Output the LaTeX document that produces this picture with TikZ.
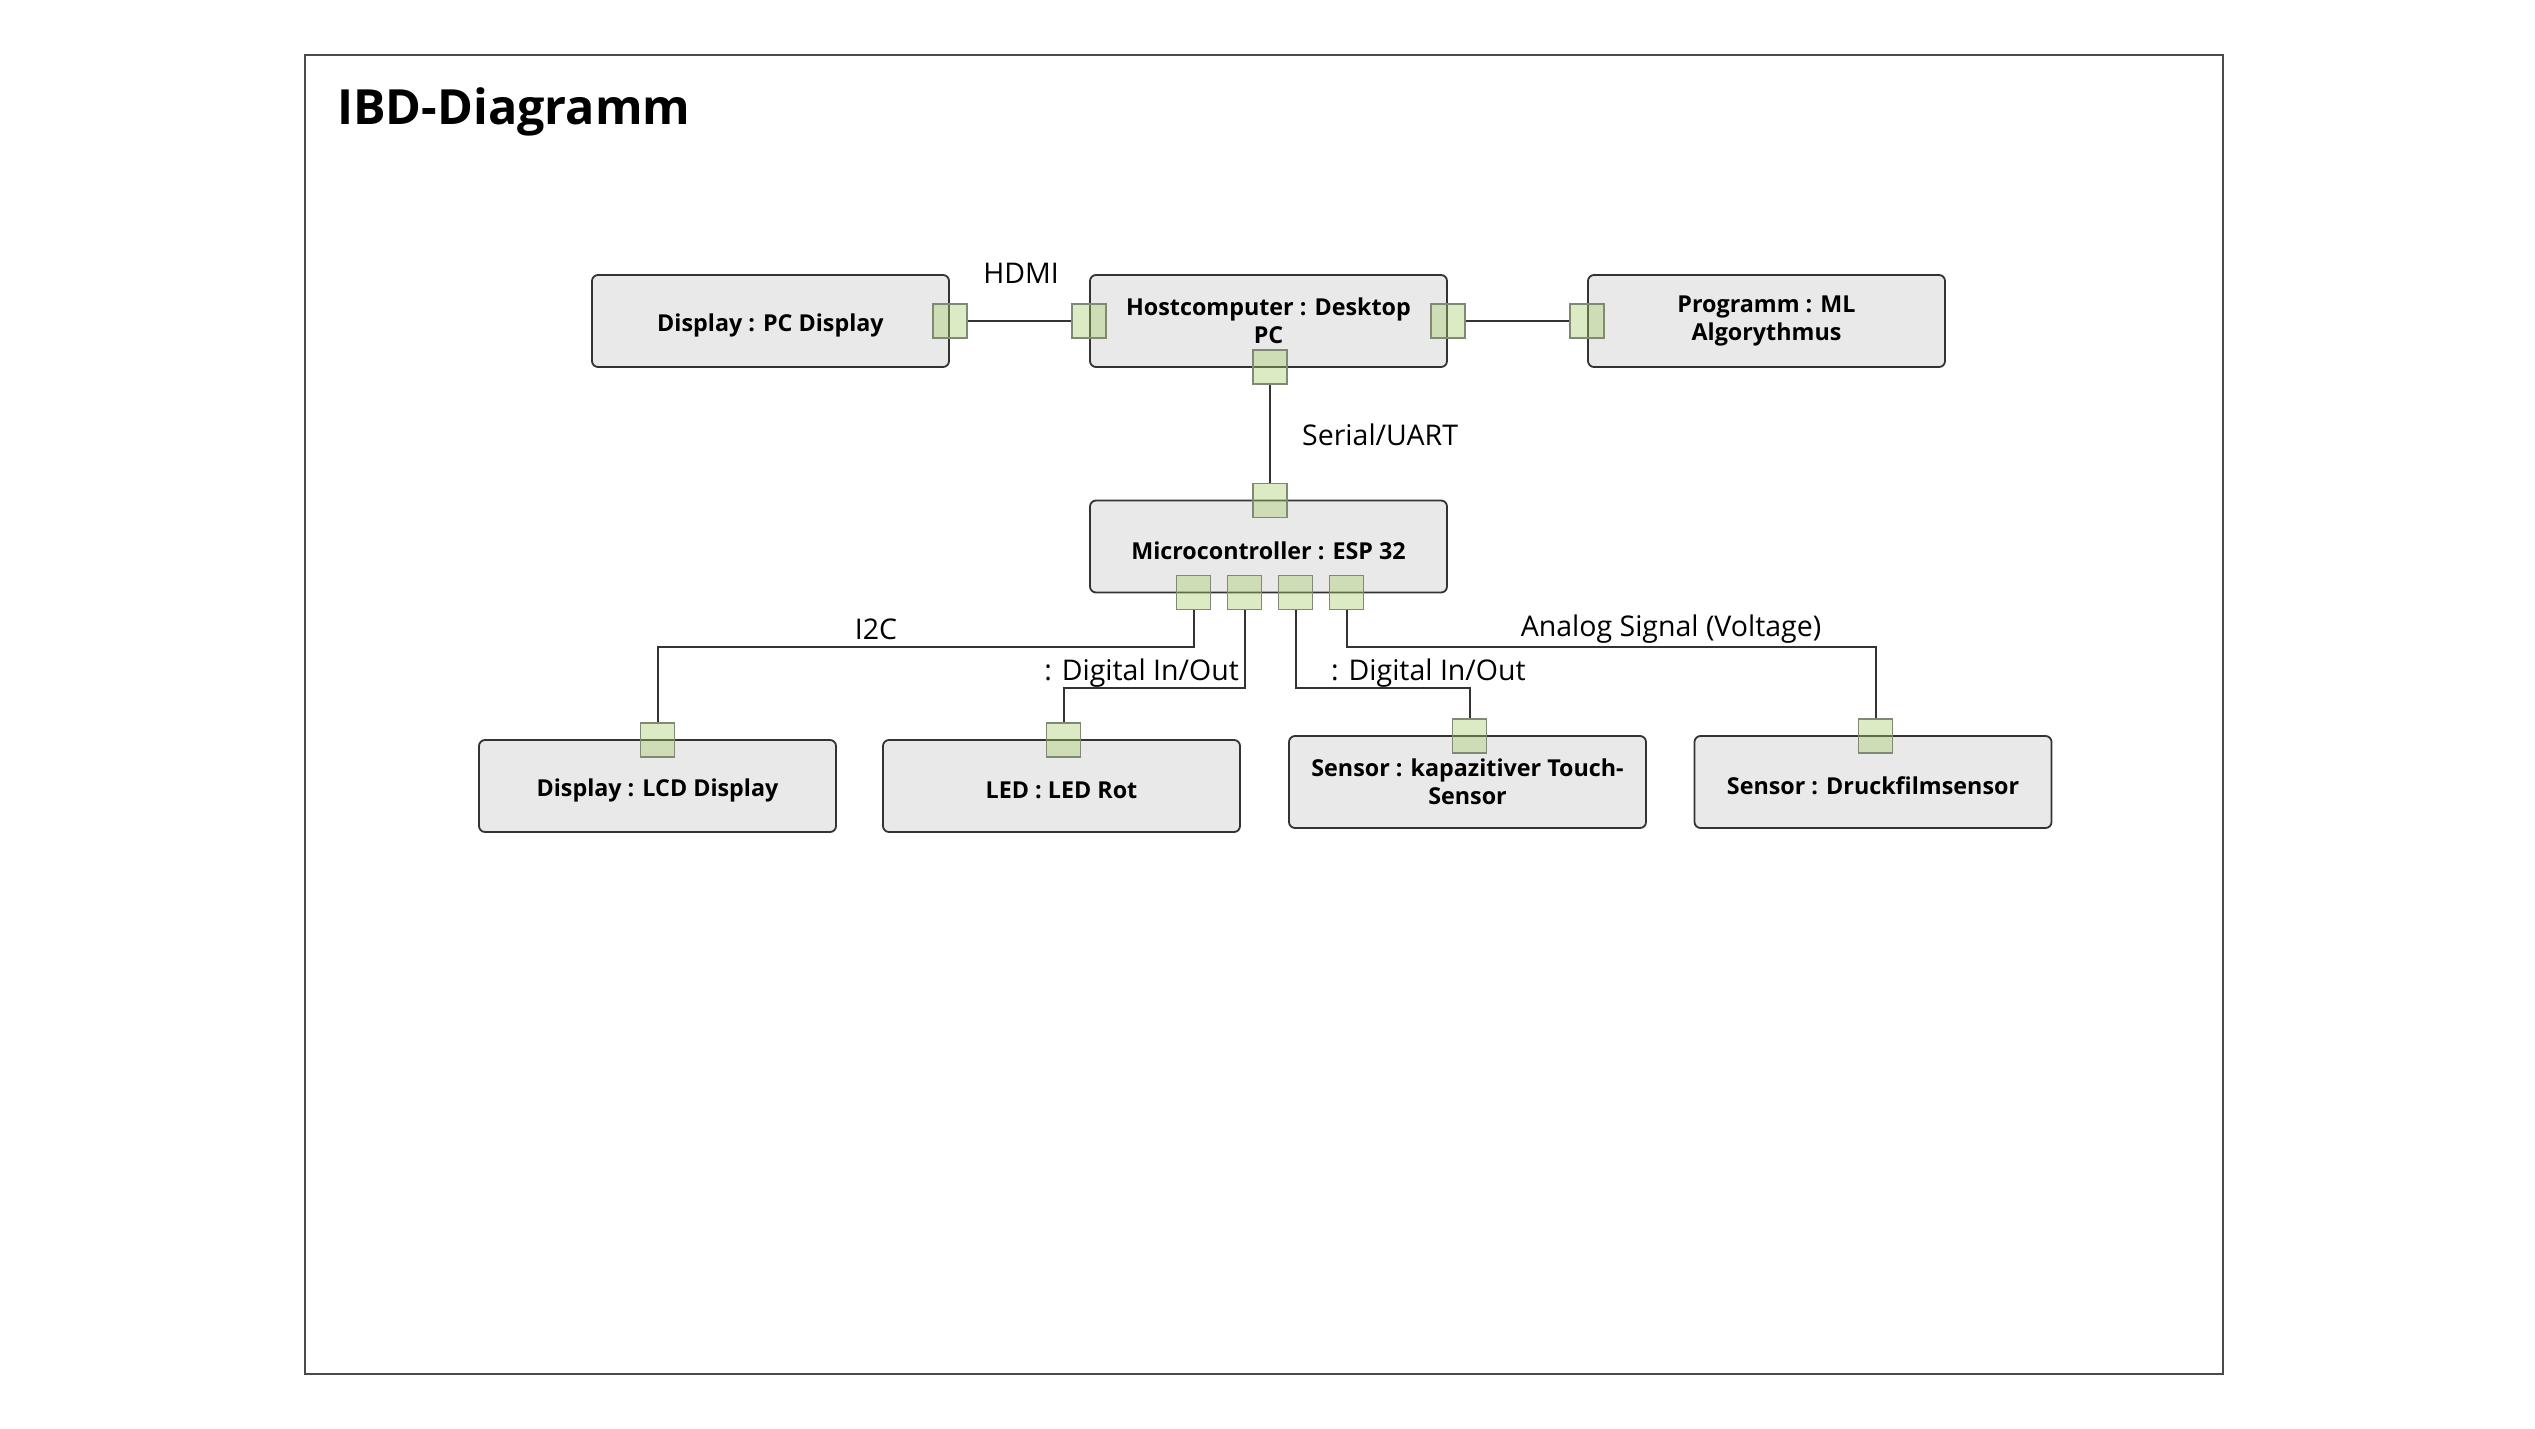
\documentclass[tikz,border=0pt]{standalone}
\usepackage{fontspec}
\setmainfont{Open Sans}
\newcommand{\lowr}[1]{\raisebox{-4pt}[\height][\depth]{#1}}
\begin{document}
\begin{tikzpicture}[x=1pt,y=-1pt,
  blk/.style={draw=linec,line width=1.8pt,rounded corners=6pt,fill=boxfill,minimum width=357pt,minimum height=92pt,inner sep=0pt,align=center,text=black,font=\fontsize{23.3}{28}\selectfont\bfseries},
  port/.style={draw=portb,line width=1.8pt,fill=portg,fill opacity=0.38,minimum size=34pt,inner sep=0pt},
  conn/.style={draw=linec,line width=2pt},
  lbl/.style={font=\fontsize{28.5}{33}\selectfont,text=black,inner sep=0pt}]
\definecolor{linec}{HTML}{333333}
\definecolor{boxfill}{HTML}{E9E9E9}
\definecolor{portg}{HTML}{A6CC65}
\definecolor{portb}{HTML}{7F8A74}
\definecolor{framec}{HTML}{4A4A4A}
\useasboundingbox (0,0) rectangle (2535,1429);
\fill[white] (0,0) rectangle (2535,1429);
\draw[framec,line width=2.5pt] (305,55) rectangle (2223,1374);
\node[anchor=base west,inner sep=0pt,font=\fontsize{48.5}{56}\selectfont\bfseries] (title) at (337,124) {IBD-Diagramm};

% blocks
\node[blk] (pcd) at (770.5,321) {\lowr{Display : PC Display}};
\node[blk] (host) at (1268.5,321) {Hostcomputer : Desktop\\PC};
\node[blk] (prog) at (1766.5,321) {Programm : ML\\Algorythmus};
\node[blk] (mc) at (1268.5,546.5) {\lowr{Microcontroller : ESP 32}};
\node[blk] (lcd) at (657.5,786) {\lowr{Display : LCD Display}};
\node[blk] (led) at (1061.5,786) {\lowr{LED : LED Rot}};
\node[blk] (touch) at (1467.5,782) {Sensor : kapazitiver Touch-\\Sensor};
\node[blk] (druck) at (1873,782) {\lowr{Sensor : Druckfilmsensor}};

% ports
\node[port] (ppcd) at (pcd.east) {};
\node[port] (phostl) at (host.west) {};
\node[port] (phostr) at (host.east) {};
\node[port] (pprog) at (prog.west) {};
\node[port] (phostb) at (1270,367) {};
\node[port] (pmct) at (1270,500.5) {};
\node[port] (pmc1) at (1193.5,592.5) {};
\node[port] (pmc2) at (1244.5,592.5) {};
\node[port] (pmc3) at (1295.5,592.5) {};
\node[port] (pmc4) at (1346.5,592.5) {};
\node[port] (plcd) at (657.5,740) {};
\node[port] (pled) at (1063.5,740) {};
\node[port] (ptouch) at (1469.5,736) {};
\node[port] (pdruck) at (1875.5,736) {};

% connectors
\draw[conn] (ppcd) -- (phostl);
\draw[conn] (phostr) -- (pprog);
\draw[conn] (phostb) -- (pmct);
\draw[conn] (pmc1.south) -- (pmc1.south |- 0,647) -- (plcd.north |- 0,647) -- (plcd.north);
\draw[conn] (pmc2.south) -- (pmc2.south |- 0,688) -- (pled.north |- 0,688) -- (pled.north);
\draw[conn] (pmc3.south) -- (pmc3.south |- 0,688) -- (ptouch.north |- 0,688) -- (ptouch.north);
\draw[conn] (pmc4.south) -- (pmc4.south |- 0,647) -- (pdruck.north |- 0,647) -- (pdruck.north);

% labels
\node[lbl] (lhdmi) at (1021,273) {HDMI};
\node[lbl,anchor=west] (lser) at (1302,435) {Serial/UART};
\node[lbl] (li2c) at (876,629) {I2C};
\node[lbl,anchor=east] (ldig1) at (1239,673) {: Digital In/Out};
\node[lbl,anchor=west] (ldig2) at (1331,673) {: Digital In/Out};
\node[lbl] (lana) at (1671,629) {Analog Signal (Voltage)};
\end{tikzpicture}
\end{document}
